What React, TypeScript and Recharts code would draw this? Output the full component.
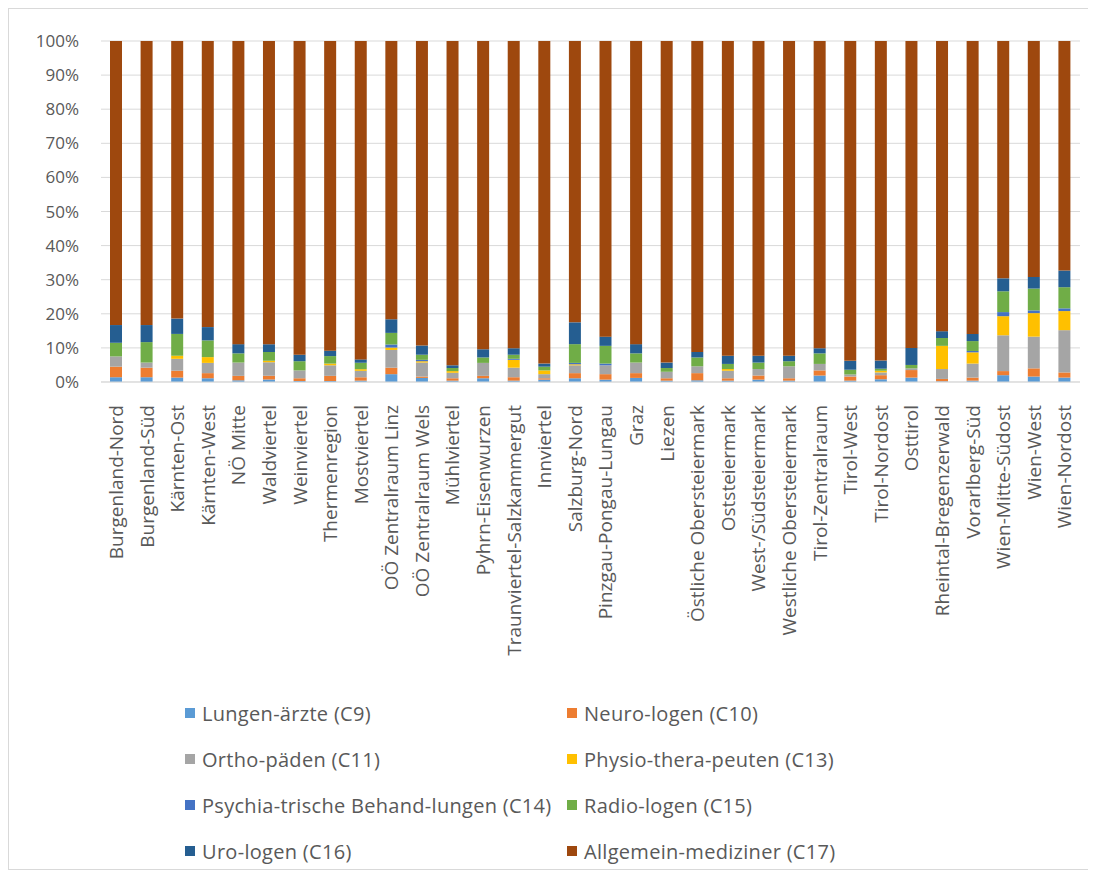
import { BarChart, Bar, XAxis, YAxis, CartesianGrid, Legend } from 'recharts';

const regions = [
  'Burgenland-Nord', 'Burgenland-Süd', 'Kärnten-Ost', 'Kärnten-West', 'NÖ Mitte', 'Waldviertel',
  'Weinviertel', 'Thermenregion', 'Mostviertel', 'OÖ Zentralraum Linz', 'OÖ Zentralraum Wels',
  'Mühlviertel', 'Pyhrn-Eisenwurzen', 'Traunviertel-Salzkammergut', 'Innviertel', 'Salzburg-Nord',
  'Pinzgau-Pongau-Lungau', 'Graz', 'Liezen', 'Östliche Obersteiermark', 'Oststeiermark',
  'West-/Südsteiermark', 'Westliche Obersteiermark', 'Tirol-Zentralraum', 'Tirol-West',
  'Tirol-Nordost', 'Osttirol', 'Rheintal-Bregenzerwald', 'Vorarlberg-Süd', 'Wien-Mitte-Südost',
  'Wien-West', 'Wien-Nordost',
];

// shares in % per region
const c9 = [1.4, 1.4, 1.3, 1.1, 0.5, 0.7, 0.3, 0.3, 0.4, 2.3, 1.2, 0.4, 1.1, 0.4, 0.7, 1.1, 0.7, 1.2, 0.4, 0.5, 0.4, 0.7, 0.4, 1.9, 0.4, 0.8, 1.3, 0.2, 0.4, 2.0, 1.6, 1.3];
const c10 = [3.1, 2.8, 2.0, 1.5, 1.3, 1.1, 0.8, 1.5, 1.0, 1.9, 0.4, 0.7, 0.7, 1.0, 0.4, 1.5, 1.6, 1.4, 0.7, 2.1, 0.7, 1.2, 0.7, 1.5, 1.2, 1.2, 2.2, 0.7, 0.9, 1.2, 2.4, 1.5];
const c11 = [3.0, 1.5, 3.5, 3.0, 3.9, 4.0, 2.3, 3.1, 1.9, 5.2, 4.1, 1.6, 3.8, 2.8, 1.2, 2.3, 2.6, 3.1, 1.9, 2.0, 2.2, 1.9, 3.5, 1.9, 0.6, 0.8, 0.5, 2.9, 4.1, 10.5, 9.3, 12.4];
const c13 = [0, 0, 0.9, 1.7, 0, 0.4, 0, 0.5, 0.5, 0.7, 0.4, 0.5, 0, 2.3, 1.1, 0.3, 0, 0, 0, 0, 0.5, 0, 0, 0, 0, 0.5, 0, 6.8, 3.3, 5.6, 6.9, 5.6];
const c14 = [0, 0, 0, 0, 0, 0, 0, 0, 0, 0.9, 0.4, 0, 0, 0.3, 0, 0.4, 0.5, 0, 0, 0, 0, 0, 0, 0, 0, 0, 0, 0, 0.4, 1.2, 0.8, 0.8];
const c15 = [4.0, 6.0, 6.4, 4.9, 2.7, 2.6, 2.7, 2.2, 1.9, 3.4, 1.5, 0.9, 1.6, 1.2, 1.1, 5.5, 5.2, 2.7, 1.1, 2.6, 1.5, 1.9, 1.5, 3.1, 1.4, 0.6, 1.0, 2.3, 2.9, 6.1, 6.4, 6.2];
const c16 = [5.2, 5.0, 4.5, 3.9, 2.7, 2.3, 1.9, 1.6, 1.0, 4.0, 2.7, 0.8, 2.4, 1.9, 0.9, 6.4, 2.7, 2.7, 1.6, 1.6, 2.4, 2.0, 1.6, 1.5, 2.6, 2.4, 5.0, 2.0, 2.1, 3.8, 3.4, 4.9];
const c17 = [83.3, 83.3, 81.4, 83.9, 88.9, 88.9, 92.0, 90.8, 94.3, 81.6, 89.3, 95.1, 90.4, 90.1, 94.6, 82.5, 86.7, 88.9, 94.4, 91.2, 92.3, 92.3, 92.3, 90.1, 93.8, 93.7, 90.0, 85.1, 85.9, 69.6, 69.2, 67.3];

const yTicks = [0, 0.1, 0.2, 0.3, 0.4, 0.5, 0.6, 0.7, 0.8, 0.9, 1];

const series = [
  { key: 'c9', name: 'Lungen-ärzte (C9)', color: '#5b9bd5', values: c9 },
  { key: 'c10', name: 'Neuro-logen (C10)', color: '#ed7d31', values: c10 },
  { key: 'c11', name: 'Ortho-päden (C11)', color: '#a5a5a5', values: c11 },
  { key: 'c13', name: 'Physio-thera-peuten (C13)', color: '#ffc000', values: c13 },
  { key: 'c14', name: 'Psychia-trische Behand-lungen (C14)', color: '#4472c4', values: c14 },
  { key: 'c15', name: 'Radio-logen (C15)', color: '#70ad47', values: c15 },
  { key: 'c16', name: 'Uro-logen (C16)', color: '#255e91', values: c16 },
  { key: 'c17', name: 'Allgemein-mediziner (C17)', color: '#9e480e', values: c17 },
];

const data = regions.map((region, i) => {
  const row: Record<string, string | number> = { region };
  series.forEach((s) => {
    row[s.key] = s.values[i];
  });
  return row;
});

const FONT = '"Open Sans", "Noto Sans", sans-serif';
const TEXT = '#595959';

const RegionTick = (props: any) => {
  const { x, y, payload } = props;
  return (
    <g transform={`translate(${x},${y})`}>
      <text
        transform="rotate(-90)"
        x={-15}
        y={0}
        dy="0.35em"
        textAnchor="end"
        fill={TEXT}
        fontSize={19}
        fontFamily={FONT}
      >
        {payload.value}
      </text>
    </g>
  );
};

const LegendBox = () => (
  <div
    style={{
      display: 'grid',
      gridTemplateColumns: '382px 330px',
      fontFamily: FONT,
      fontSize: 20,
      letterSpacing: 0.3,
      color: TEXT,
    }}
  >
    {series.map((s) => (
      <div key={s.key} style={{ display: 'flex', alignItems: 'center', height: 46, whiteSpace: 'nowrap' }}>
        <span style={{ width: 10, height: 10, background: s.color, marginRight: 7, flex: 'none' }} />
        <span>{s.name}</span>
      </div>
    ))}
  </div>
);

export default function App() {
  return (
    <div style={{ width: 1082, height: 860, border: '1px solid #d9d9d9', background: '#fff' }}>
      <BarChart
        width={1082}
        height={860}
        data={data}
        stackOffset="expand"
        barSize={12}
        margin={{ top: 32, right: 11, bottom: 3, left: 0 }}
      >
        <CartesianGrid vertical={false} stroke="#d9d9d9" />
        <XAxis
          dataKey="region"
          interval={0}
          height={300}
          tick={<RegionTick />}
          tickLine={false}
          axisLine={{ stroke: '#d9d9d9' }}
        />
        <YAxis
          width={92}
          ticks={yTicks}
          interval={0}
          domain={[0, 1]}
          tickFormatter={(v: number) => `${Math.round(v * 100)}%`}
          tick={{ fill: TEXT, fontSize: 17, fontFamily: FONT }}
          tickLine={false}
          axisLine={false}
          tickMargin={16}
        />
        {series.map((s) => (
          <Bar key={s.key} dataKey={s.key} name={s.name} stackId="a" fill={s.color} isAnimationActive={false} />
        ))}
        <Legend
          content={<LegendBox />}
          wrapperStyle={{ top: 681, left: 176, width: 720 }}
        />
      </BarChart>
    </div>
  );
}
